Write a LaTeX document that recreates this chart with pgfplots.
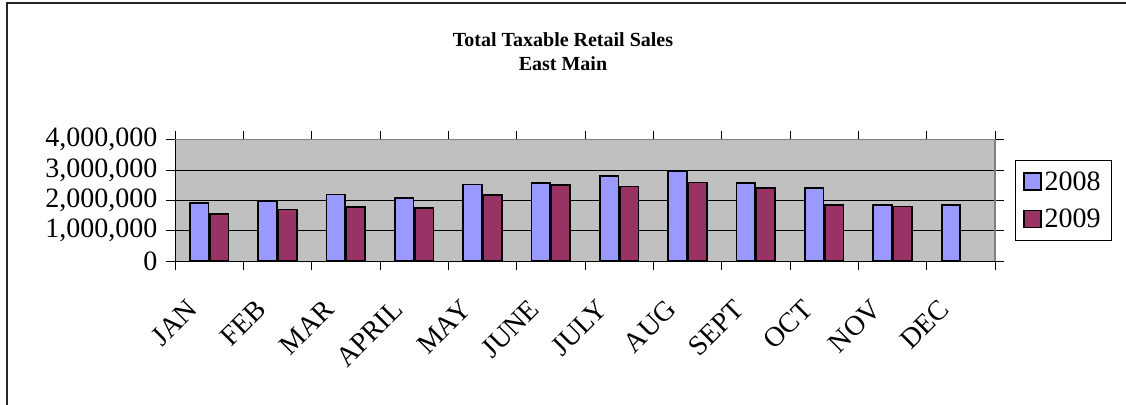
\documentclass[border=0pt]{standalone}
\usepackage{pgfplots}
\pgfplotsset{compat=1.18}
\usepackage{fontspec}
\setmainfont{Liberation Serif}
\definecolor{c08}{HTML}{9999FF}
\definecolor{c09}{HTML}{993366}
\definecolor{plotbg}{HTML}{C0C0C0}
\begin{document}
\begin{tikzpicture}[x=1bp,y=1bp]
\useasboundingbox (0,0) rectangle (1126,404);
\draw[line width=2bp, black!85] (7,-5) -- (7,401.3) -- (1130,401.3);
\node[anchor=base, font=\fontsize{20bp}{23bp}\selectfont\bfseries] at (563,404-46.7) {Total Taxable Retail Sales};
\node[anchor=base, font=\fontsize{20bp}{23bp}\selectfont\bfseries] at (563,404-70) {East Main};
\begin{axis}[
  at={(175bp,143bp)}, anchor=south west,
  scale only axis, width=820bp, height=121.3bp,
  ymin=0, ymax=4000000, xmin=-0.5, xmax=11.5,
  ybar, bar width=18.5bp,
  axis background/.style={fill=plotbg},
  axis line style={draw=none},
  ytick={0,1000000,2000000,3000000,4000000},
  scaled y ticks=false,
  yticklabel style={/pgf/number format/.cd, fixed, precision=0, 1000 sep={,}, assume math mode=true, /tikz/.cd, xshift=-5bp},
  ymajorgrids, grid style={black, line width=0.8bp},
  xtick={-0.5,0.5,...,11.5}, xticklabels={},
  extra x ticks={0,1,2,3,4,5,6,7,8,9,10,11},
  extra x tick labels={JAN,FEB,MAR,APRIL,MAY,JUNE,JULY,AUG,SEPT,OCT,NOV,DEC},
  extra x tick style={major tick length=0pt, xticklabel style={xshift=-23bp, yshift=-37bp, rotate=45, anchor=north east, inner sep=0pt}},
  tick align=outside, major tick length=9bp,
  tick style={black, line width=1bp},
  tick label style={font=\fontsize{28bp}{30bp}\selectfont},
  legend style={at={(1,0.5)}, anchor=west, xshift=20bp, draw=black, line width=0.8bp,
    font=\fontsize{28bp}{30bp}\selectfont, row sep=12bp, inner xsep=8bp, inner ysep=9bp,
    nodes={inner sep=2.5bp}},
  legend cell align=left,
  legend image code/.code={\draw[#1, line width=1.8bp] (0bp,-8.5bp) rectangle (17bp,8.5bp);},
  after end axis/.code={
    \draw[gray, line width=1.5bp] (rel axis cs:0,1) -- (rel axis cs:1,1) -- (rel axis cs:1,0);
    \draw[black, line width=1bp] (rel axis cs:0,1) -- (rel axis cs:0,0) -- (rel axis cs:1,0);
  },
]
\addplot[draw=black, line width=1.8bp, fill=c08, bar shift=-10bp] coordinates {
  (0,1920000) (1,1980000) (2,2190000) (3,2070000) (4,2520000) (5,2570000)
  (6,2790000) (7,2970000) (8,2570000) (9,2400000) (10,1840000) (11,1840000)};
\addplot[draw=black, line width=1.8bp, fill=c09, bar shift=10bp] coordinates {
  (0,1560000) (1,1700000) (2,1790000) (3,1750000) (4,2170000) (5,2510000)
  (6,2460000) (7,2590000) (8,2400000) (9,1840000) (10,1800000)};
\legend{2008,2009}
\end{axis}
\end{tikzpicture}
\end{document}
